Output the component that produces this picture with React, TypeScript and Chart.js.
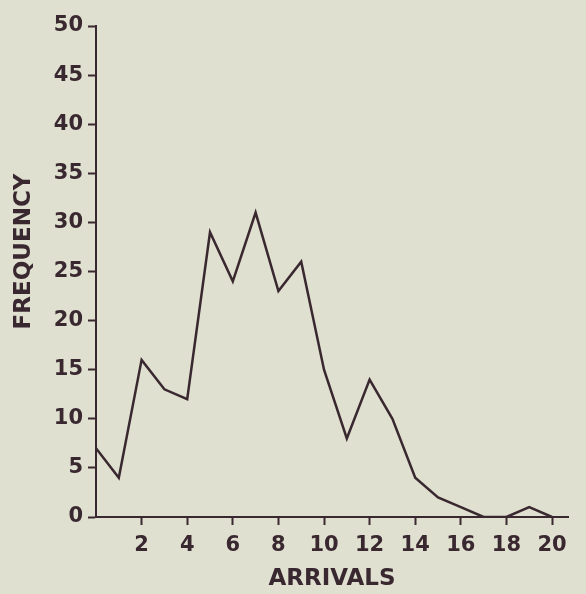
import React, { useEffect, useRef } from "react";
import { Chart, registerables } from "chart.js";

Chart.register(...registerables);

const arrivals = [0, 1, 2, 3, 4, 5, 6, 7, 8, 9, 10, 11, 12, 13, 14, 15, 16, 17, 18, 19, 20];
const frequency = [7, 4, 16, 13, 12, 29, 24, 31, 23, 26, 15, 8, 14, 10, 4, 2, 1, 0, 0, 1, 0];
const xTickValues = [2, 4, 6, 8, 10, 12, 14, 16, 18, 20];

const INK = "#3a2830";
const BG = "#dfe0d0";
const FONT = "'DejaVu Sans', sans-serif";

export default function App() {
  const ref = useRef<HTMLCanvasElement | null>(null);

  useEffect(() => {
    if (!ref.current) return;
    const chart = new Chart(ref.current, {
      type: "line",
      data: {
        datasets: [
          {
            data: arrivals.map((x, i) => ({ x, y: frequency[i] })),
            borderColor: INK,
            borderWidth: 2.5,
            pointRadius: 0,
            tension: 0,
            fill: false,
          },
        ],
      },
      options: {
        animation: false,
        responsive: true,
        maintainAspectRatio: false,
        layout: { padding: { left: 0, top: 26, right: 18, bottom: 0 } },
        plugins: { legend: { display: false }, tooltip: { enabled: false } },
        scales: {
          x: {
            type: "linear",
            min: 0,
            max: 20.7,
            afterBuildTicks: (scale: any) => {
              scale.ticks = xTickValues.map((v) => ({ value: v }));
            },
            afterFit: (scale: any) => {
              scale.height = 77;
            },
            ticks: {
              color: INK,
              font: { family: FONT, size: 21, weight: "bold" },
              padding: 8,
              maxRotation: 0,
              autoSkip: false,
            },
            grid: {
              drawOnChartArea: false,
              drawTicks: true,
              tickLength: 8,
              tickWidth: 2,
              tickColor: INK,
            },
            border: { display: true, color: INK, width: 2 },
            title: {
              display: true,
              text: "ARRIVALS",
              color: INK,
              font: { family: FONT, size: 23, weight: "bold" },
              padding: { top: 0, bottom: 1 },
            },
          },
          y: {
            type: "linear",
            min: 0,
            max: 50,
            afterFit: (scale: any) => {
              scale.width = 96;
            },
            ticks: {
              stepSize: 5,
              color: INK,
              font: { family: FONT, size: 21, weight: "bold" },
              padding: 5,
            },
            grid: {
              drawOnChartArea: false,
              drawTicks: true,
              tickLength: 8,
              tickWidth: 2,
              tickColor: INK,
            },
            border: { display: true, color: INK, width: 2 },
            title: {
              display: true,
              text: "     FREQUENCY",
              color: INK,
              font: { family: FONT, size: 23, weight: "bold" },
              padding: { top: 10, bottom: 0 },
            },
          },
        },
      },
    });
    return () => chart.destroy();
  }, []);

  return (
    <div
      style={{
        position: "absolute",
        left: 0,
        top: 0,
        width: 586,
        height: 594,
        background: BG,
      }}
    >
      <canvas ref={ref} />
    </div>
  );
}
